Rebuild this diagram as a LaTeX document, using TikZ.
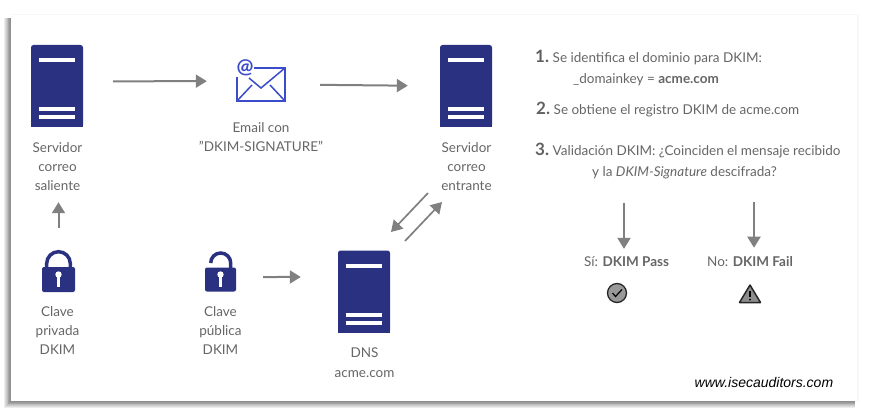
\documentclass[tikz,border=0pt]{standalone}
\usepackage{fontspec}
\setmainfont{Lato}
\newfontfamily\webfont{Liberation Sans}
\usetikzlibrary{arrows.meta}
\definecolor{srvblue}{HTML}{2A3180}
\definecolor{mailblue}{HTML}{3B4CCB}
\definecolor{txtgray}{HTML}{666666}
\definecolor{arrowgray}{HTML}{808080}
\tikzset{
  flow/.style={->,draw=arrowgray,line width=2pt},
  srv/.style={fill=srvblue,rounded corners=2.5pt,minimum width=52pt,minimum height=82pt,inner sep=0pt},
  lockbody/.style={fill=srvblue,rounded corners=2pt,minimum height=24pt,inner sep=0pt},
  lbl/.style={text=txtgray,align=center,inner sep=0pt,font=\fontsize{13.5}{19}\selectfont},
  steptxt/.style={text=txtgray,anchor=base west,inner sep=0pt,font=\fontsize{13.5}{19}\selectfont},
}
\newcommand{\stepnum}[1]{{\fontsize{17}{19}\selectfont\bfseries\textcolor{black!62}{#1}}\hspace{-1pt}}
\begin{document}
\begin{tikzpicture}[x=1pt,y=-1pt,>={Triangle[length=11pt,width=13pt]}]
  \useasboundingbox (0,0) rectangle (875,417);
  % sombra y tarjeta
  \foreach \i in {1,...,8}{
    \fill[black,opacity=0.07] (11-\i*0.85,18) rectangle (855,401+\i*0.85);
  }
  \fill[black,opacity=0.03] (11,14) rectangle (859,401);
  \fill[white] (11,15) rectangle (857,401);
  % servidores
  \node[srv] (srvout) at (57,86) {};
  \node[srv] (srvin) at (466,86) {};
  \node[srv] (dns) at (364,291.5) {};
  \foreach \srv in {srvout,srvin,dns}{
    \fill[srvblue] (\srv.west) rectangle (\srv.south east);
    \fill[white] ([shift={(-18,-28)}]\srv.center) rectangle +(36,4);
    \fill[white] ([shift={(-18,21)}]\srv.center) rectangle +(36,4);
    \fill[white] ([shift={(-18,29)}]\srv.center) rectangle +(36,4);
  }
  \node[lbl] (srvoutlbl) at (57.5,167) {Servidor\\correo\\saliente};
  \node[lbl] (srvinlbl) at (466.5,167) {Servidor\\correo\\entrante};
  \node[lbl,align=center] (dnslbl) at (364.5,363) {DNS\\[1pt]acme.com};
  % email
  \node[minimum width=48pt,minimum height=33pt,inner sep=0pt] (email) at (261,84.5) {};
  \draw[mailblue,line width=1.5pt,line join=miter]
    (email.north west)++(17,0) -- (email.north east) -- (email.south east) -- (email.south west) -- +(0,-24);
  \draw[mailblue,line width=1.5pt] (email.north east) -- (261,88) -- (249,78);
  \draw[mailblue,line width=1.5pt] (email.south west) -- (252,85);
  \draw[mailblue,line width=1.5pt] (email.south east) -- (270,85);
  \node[text=mailblue,inner sep=0pt,font=\fontsize{20}{20}\selectfont\bfseries] (emailat) at (245,68) {@};
  \node[lbl] (emaillbl) at (261,137) {Email con\\"DKIM-SIGNATURE"};
  % candados
  \node[lockbody,minimum width=33pt,minimum height=25pt] (privkey) at (58.5,279.5) {};
  \draw[srvblue,line width=3.5pt] (46.7,270) -- (46.7,263.5) arc[start angle=180,end angle=360,radius=11.8] -- (70.3,270);
  \node[lockbody,minimum width=31pt] (pubkey) at (220.5,279.5) {};
  \draw[srvblue,line width=3.5pt] (210.7,263) arc[start angle=180,end angle=360,radius=10] -- (230.7,270);
  \foreach \lck in {privkey,pubkey}{
    \fill[white] ([shift={(0,-5)}]\lck.center) circle[radius=3.2];
    \fill[white] ([shift={(-1.5,-5)}]\lck.center) rectangle +(3,12);
  }
  \node[lbl] (privlbl) at (57.5,331) {Clave\\privada\\DKIM};
  \node[lbl] (publbl) at (220.5,331) {Clave\\pública\\DKIM};
  % flechas
  \draw[flow,shorten <=30pt,shorten >=30pt] (srvout.10) -- (email.172);
  \draw[flow,shorten <=35pt,shorten >=32pt] (email.east) -- (srvin.west);
  \draw[flow,shorten <=39pt,shorten >=11pt] (privkey.north) -- (srvoutlbl.south -| privkey.north);
  \draw[flow,shorten <=27pt,shorten >=37pt] (pubkey.9) -- (dns.151);
  \coordinate (dnsin) at (428,193);
  \coordinate (dnsout) at (391,232);
  \coordinate (srvback) at (405,241);
  \coordinate (srvback2) at (442,202);
  \draw[flow,line width=1.7pt] (dnsin) -- (dnsout);
  \draw[flow,line width=1.7pt] (srvback) -- (srvback2);
  % pasos
  \node[steptxt] (stepa) at (535,63) {\stepnum{1.} Se identifica el dominio para DKIM:};
  \node[steptxt] (stepaa) at (573,84) {\_domainkey = \textbf{acme.com}};
  \node[steptxt] (stepb) at (536,114) {\stepnum{2.} Se obtiene el registro DKIM de acme.com};
  \node[steptxt] (stepc) at (535,155) {\stepnum{3.} Validación DKIM: ¿Coinciden el mensaje recibido};
  \node[steptxt] (stepcc) at (592,176) {y la \textit{DKIM-Signature} descifrada?};
  % resultados
  \node[lbl] (pass) at (626.5,262) {Sí: \textbf{DKIM Pass}};
  \node[lbl] (fail) at (750,262) {No: \textbf{DKIM Fail}};
  \coordinate (passtop) at (624,203);
  \coordinate (failtop) at (754,202);
  \draw[flow,shorten >=8pt] (passtop) -- (passtop |- pass.north);
  \draw[flow,shorten >=9pt] (failtop) -- (failtop |- fail.north);
  \node[circle,draw=black!85,fill=black!40,line width=1.3pt,minimum size=19pt,inner sep=0pt] (passicon) at (617,293) {};
  \draw[black,line width=1.2pt] (612.5,293) -- (615.5,296.5) -- (622,289.5);
  \fill[black!45,draw=black!85,line width=1.5pt,line join=round] (750,285) -- (760.5,302.5) -- (739.5,302.5) -- cycle;
  \fill[black] (749.2,290.5) rectangle (750.8,297);
  \fill[black] (750,299.6) circle[radius=1];
  \node[inner sep=0pt,anchor=base west,font=\webfont\itshape\fontsize{14}{14}\selectfont,text=black] (web) at (694.5,387) {www.isecauditors.com};
\end{tikzpicture}
\end{document}
